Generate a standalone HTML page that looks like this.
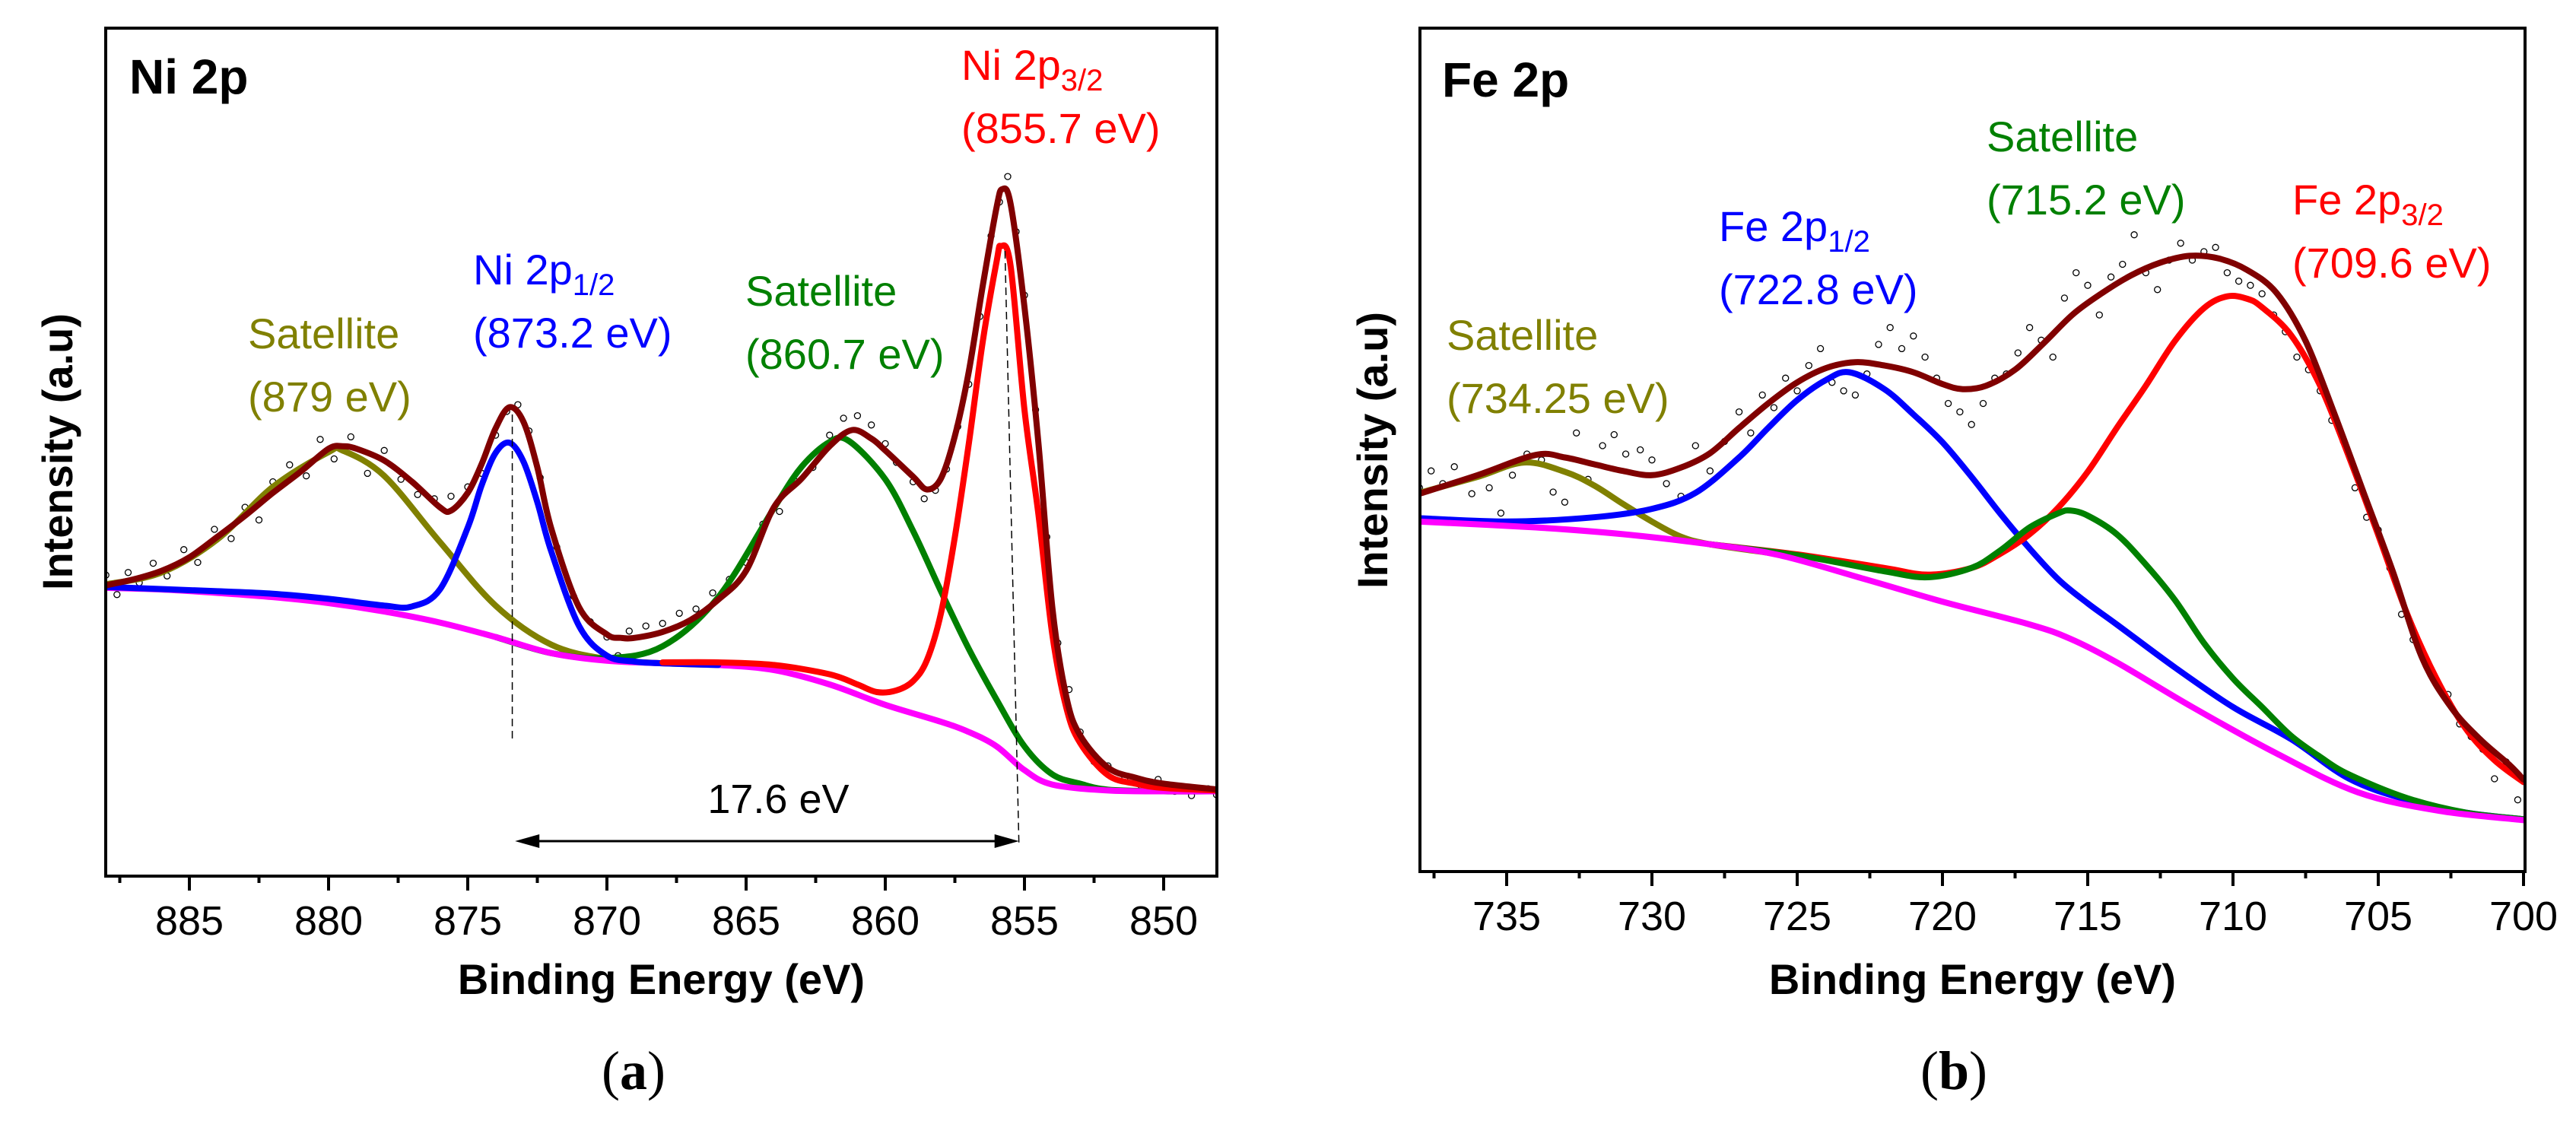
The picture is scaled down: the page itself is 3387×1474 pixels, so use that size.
<!DOCTYPE html>
<html><head><meta charset="utf-8"><style>
html,body{margin:0;padding:0;background:#fff;}
svg{display:block;}
text{font-family:"Liberation Sans",Arial,sans-serif;}
</style></head><body>
<svg id="fig" width="3387" height="1474" viewBox="0 0 3387 1474" xmlns="http://www.w3.org/2000/svg">
<rect x="0" y="0" width="3387" height="1474" fill="#fff"/>
<g id="pa"></g>
<g id="pb"></g>
</svg>
<script>
// ---------- Panel A data (Ni 2p) : binding energy (eV) / intensity (a.u., 0-100) ----------
const aTicks = [885, 880, 875, 870, 865, 860, 855, 850];
const aBgE = [888,886,884,882,880,878,876,874,872,870,868,866,864,862,860,858,857,856,855,854,852,850,848];
const aBgV = [34.0,33.8,33.4,32.9,32.2,31.2,29.9,28.2,26.3,25.4,25.1,24.9,24.3,22.6,20.2,18.2,17.0,15.3,12.5,10.8,10.1,10.0,10.0];
const aOliveE = [888,886,884,882,880,879.5,878,876,874,872,870,868,866];
const aOliveV = [34.4,35.8,39.7,45.9,50.0,50.2,47.2,39.4,31.9,27.3,25.6,25.1,24.9];
const aBlueE = [888,884,882,880,878,877,876,875,874.5,874,873.5,873,872.5,872,871,870,869,868,866];
const aBlueV = [34.1,33.6,33.3,32.7,31.9,31.8,33.8,41.1,46.1,49.9,51.1,48.9,44.1,38.3,29.5,26.0,25.3,25.1,24.9];
const aGreenE = [874,872,870,868,866,864,863,862,861.3,860,859,858,857,856,855,854,853,852,850,848];
const aGreenV = [28.2,26.3,25.7,27.1,32.9,43.4,48.3,51.2,51.3,46.8,40.7,33.6,26.8,20.8,15.3,12.0,10.9,10.2,10.0,10.0];
const aRedE = [868,866,864,862,861,860.3,859.6,859,858.5,858,857.5,857,856.5,856,855.85,855.5,855,854.5,854,853.5,853,852,851,850,848];
const aRedV = [25.2,25.2,24.9,23.8,22.6,21.7,21.9,23.0,25.5,31.0,40.0,51.0,63.0,72.5,74.3,72.0,55.0,42.7,28.5,19.9,15.7,11.9,10.9,10.4,10.1];
const aEnvE = [888,887,886,885,884,883,882,881,880,879.5,879,878,877,876,875.6,875,874.5,874,873.5,873,872.5,872,871,870,869.5,869,868,867,866,865,864,863,862,861.2,860.5,860,859,858.5,858,857.5,857,856.5,856,855.8,855.5,855,854.5,854,853.5,853,852,851,850,848];
const aEnvV = [34.3,35.0,36.0,37.6,40.0,42.5,45.2,47.7,50.4,50.7,50.4,49.0,46.5,43.5,43.1,45.2,48.6,52.8,55.3,53.6,48.2,41.0,31.7,28.5,28.1,28.1,28.8,30.2,32.6,36.0,43.5,46.9,50.7,52.6,51.6,50.2,47.1,45.6,46.9,51.9,59.5,69.6,78.9,81.0,79.3,67.1,51.1,31.7,21.2,16.6,12.8,11.6,10.9,10.2];
const aPtsE = [888,887.6,887.2,886.8,886.3,885.8,885.2,884.7,884.1,883.5,883,882.5,882,881.4,880.8,880.3,879.8,879.2,878.6,878,877.4,876.8,876.2,875.6,875,874.5,874,873.6,873.2,872.8,872.4,871.8,871.2,870.6,870,869.6,869.2,868.6,868,867.4,866.8,866.2,865.6,865,864.4,863.8,863.2,862.6,862,861.5,861,860.5,860,859.6,859,858.6,858.2,857.8,857.4,857,856.6,856.2,855.9,855.6,855.3,855,854.6,854.2,853.8,853.4,853,852.5,852,851.4,850.8,850.2,849.6,849,848.4,848.1];
const aPtsV = [35.5,33.2,35.8,34.6,36.9,35.4,38.5,37.0,40.9,39.8,43.5,42.0,46.5,48.5,47.2,51.5,49.2,51.8,47.5,50.2,46.8,45.0,44.5,44.8,45.9,47.5,52.0,54.8,55.6,52.5,47.0,38.8,33.0,30.0,28.2,26.0,28.9,29.5,29.8,31.0,31.5,33.4,35.0,37.0,41.5,43.0,46.5,48.2,52.0,54.0,54.3,53.2,51.0,48.8,46.5,44.5,45.5,48.0,53.0,58.0,66.0,75.5,79.5,82.5,76.0,68.5,55.0,40.0,27.5,22.0,17.0,13.5,13.0,11.5,10.6,11.4,10.0,9.5,10.3,9.6];

// ---------- Panel B data (Fe 2p) ----------
const bTicks = [735, 730, 725, 720, 715, 710, 705, 700];
const bBgE = [738,734,731,728,725.6,722.7,720,717,715.6,714,711.4,708.5,705.7,702.9,700];
const bBgV = [41.5,40.8,40.0,38.8,37.5,34.7,32.0,29.3,27.6,24.8,19.5,14.0,9.4,7.2,6.1];
const bOliveE = [738,736,734.4,733,732,731,730,729,728,726];
const bOliveV = [44.9,46.8,48.5,47.4,45.8,43.6,41.5,39.7,38.8,37.8];
const bBlueE = [738,735,732,730,728.5,727,726,725,724,723.2,722,721,720,719,718,717,716,715,714,712,710,708,706,704,702,700];
const bBlueV = [41.9,41.5,42.0,43.0,44.9,49.1,52.6,55.9,58.3,59.2,57.2,54.2,50.9,46.8,42.4,38.3,34.6,31.8,29.3,24.2,19.5,15.7,11.0,8.5,7.0,6.2];
const bGreenE = [728,725,722,720.5,719,718,717,716,715.6,715,714,713,712,711,710,709,708,707,706,704,702,700];
const bGreenV = [38.8,37.5,35.6,34.9,36.0,38.1,40.8,42.5,42.8,42.2,40.0,36.4,32.2,27.1,22.9,19.5,16.1,13.6,11.5,8.7,7.0,6.2];
const bRedE = [728,725,722,720.5,719,718,717,716,715,714,713,712,711,710.2,709.5,709,708,707,706,705,704,703,702,701,700];
const bRedV = [38.8,37.6,36.0,35.2,36.0,37.7,40.0,43.2,47.4,52.6,57.6,62.9,66.8,68.2,67.9,66.9,63.6,57.6,49.1,39.9,30.5,22.9,17.0,13.2,10.6];
const bEnvE = [738,736,734,733,732,731,730,729,728,727,726,725,724,723,722,721,720,719.3,718.5,717.5,716.5,715.5,714.5,713.5,712.5,711.5,710.5,709.5,708.5,707.5,706.5,705.5,704.5,703.5,702.5,701.5,700.5,700];
const bEnvV = [44.8,47.0,49.4,49.1,48.3,47.5,47.0,47.9,49.6,52.6,55.5,58.0,59.7,60.4,60.0,59.2,57.8,57.2,57.6,59.5,62.7,66.1,68.6,70.7,72.2,73.0,72.7,71.3,68.6,62.9,54.2,44.9,35.6,25.4,19.5,15.7,12.7,10.9];
const bPtsE = [738,737.6,737.2,736.8,736.2,735.6,735.2,734.8,734.3,733.8,733.4,733,732.6,732.2,731.7,731.3,730.9,730.4,730,729.5,729,728.5,728,727.5,727,726.6,726.2,725.8,725.4,725,724.6,724.2,723.8,723.4,723,722.6,722.2,721.8,721.4,721,720.6,720.2,719.8,719.4,719,718.6,718.2,717.8,717.4,717,716.6,716.2,715.8,715.4,715,714.6,714.2,713.8,713.4,713,712.6,712.2,711.8,711.4,711,710.6,710.2,709.8,709.4,709,708.6,708.2,707.8,707.4,707,706.6,706.2,705.8,705.4,705,704.6,704.2,703.8,703.4,703,702.6,702.2,701.8,701.4,701,700.6,700.2];
const bPtsV = [45.5,47.5,46.0,48.0,44.8,45.5,42.5,47.0,49.5,48.8,45.0,43.8,52.0,46.5,50.5,51.8,49.5,50.0,48.8,46.0,44.5,50.5,47.5,51.0,54.5,52.0,56.5,55.0,58.5,57.0,60.0,62.0,58.0,57.0,56.5,59.0,62.5,64.5,62.0,63.5,61.0,58.5,55.5,54.5,53.0,55.5,58.5,59.0,61.5,64.5,63.0,61.0,68.0,71.0,69.5,66.0,70.5,72.0,75.5,71.0,69.0,72.5,74.5,72.5,73.5,74.0,71.0,70.0,69.5,68.5,66.0,64.0,61.0,59.5,57.0,53.5,51.0,45.5,42.0,40.5,36.0,30.5,27.5,25.0,22.5,21.0,17.5,16.0,14.5,11.0,13.0,8.5];

const NS = "http://www.w3.org/2000/svg";
function mk(parent, tag, attrs){
  const el = document.createElementNS(NS, tag);
  for (const k in attrs) el.setAttribute(k, attrs[k]);
  parent.appendChild(el);
  return el;
}
function smoothPath(pts){
  let d = "M" + pts[0][0].toFixed(1) + "," + pts[0][1].toFixed(1);
  for (let i = 0; i < pts.length - 1; i++){
    const p0 = pts[Math.max(0, i - 1)], p1 = pts[i], p2 = pts[i + 1], p3 = pts[Math.min(pts.length - 1, i + 2)];
    const c1x = p1[0] + (p2[0] - p0[0]) / 6, c1y = p1[1] + (p2[1] - p0[1]) / 6;
    const c2x = p2[0] - (p3[0] - p1[0]) / 6, c2y = p2[1] - (p3[1] - p1[1]) / 6;
    d += "C" + c1x.toFixed(1) + "," + c1y.toFixed(1) + " " + c2x.toFixed(1) + "," + c2y.toFixed(1) + " " + p2[0].toFixed(1) + "," + p2[1].toFixed(1);
  }
  return d;
}

function panel(g, cfg){
  const L = cfg.left, R = cfg.right, T = cfg.top, B = cfg.bottom;
  const xs = e => cfg.x0 + (cfg.e0 - e) * cfg.pxPerEv;
  const ys = v => B - v / 100 * (B - T);
  const clipId = cfg.id + "-clip";
  const defs = mk(g, "defs", {});
  const cp = mk(defs, "clipPath", {id: clipId});
  mk(cp, "rect", {x: L, y: T, width: R - L, height: B - T});
  const plot = mk(g, "g", {"clip-path": "url(#" + clipId + ")"});
  
  

  const sg = mk(plot, "g", {});
  
  
  cfg.ptsE.forEach((e, i) => {
    const c = mk(sg, "circle", {cx: xs(e).toFixed(1), cy: ys(cfg.ptsV[i]).toFixed(1), r: 4, fill: "#fff", stroke: "#000", "stroke-width": 1.3});
    
    
  });

  cfg.series.forEach(s => {
    const pts = s.E.map((e, i) => [xs(e), ys(s.V[i])]);
    const p = mk(plot, "path", {d: smoothPath(pts), fill: "none", stroke: s.color, "stroke-width": 8, "stroke-linejoin": "round", "stroke-linecap": "round"});
    
    
  });

  const fr = mk(g, "rect", {x: L, y: T, width: R - L, height: B - T, fill: "none", stroke: "#000", "stroke-width": 4});
  
  

  const tg = mk(g, "g", {});
  
  
  cfg.ticks.forEach(t => {
    const x = xs(t);
    mk(tg, "line", {x1: x, y1: B, x2: x, y2: B + 19, stroke: "#000", "stroke-width": 4});
    const m = xs(t + 2.5);
    if (m > L + 2 && m < R - 2) mk(tg, "line", {x1: m, y1: B, x2: m, y2: B + 9, stroke: "#000", "stroke-width": 4});
    const tx = mk(tg, "text", {x: x, y: B + 77, "font-size": 54, "text-anchor": "middle", fill: "#000"});
    tx.textContent = String(t);
    
    
  });
  const xt = mk(g, "text", {x: (L + R) / 2, y: 1307, "font-size": 56, "font-weight": "bold", "text-anchor": "middle"});
  xt.textContent = "Binding Energy (eV)";
  
  
  const yt = mk(g, "text", {x: 0, y: 0, "font-size": 56, "font-weight": "bold", "text-anchor": "middle", transform: "translate(" + cfg.yTitleX + "," + cfg.yTitleY + ") rotate(-90)"});
  yt.textContent = "Intensity (a.u)";
  
  
  const ht = mk(g, "text", {x: cfg.headX, y: cfg.headY, "font-size": 64, "font-weight": "bold"});
  ht.textContent = cfg.head;
  
  

  cfg.labels.forEach(lb => {
    const t1 = mk(g, "text", {x: lb.x, y: lb.y, "font-size": 56, fill: lb.color});
    
    
    if (lb.sub){
      t1.appendChild(document.createTextNode(lb.t1));
      const ts = mk(t1, "tspan", {"font-size": 40, dy: 14});
      ts.textContent = lb.sub;
    } else t1.textContent = lb.t1;
    const t2 = mk(g, "text", {x: lb.x, y: lb.y + 83, "font-size": 56, fill: lb.color});
    t2.textContent = lb.t2;
    
    
  });
  return {xs, ys};
}

const colors = {env: "#800000", red: "#ff0000", blue: "#0000ff", green: "#008000", olive: "#808000", bg: "#ff00ff"};

const A = panel(document.getElementById("pa"), {
  id: "pa", left: 139, right: 1600, top: 37, bottom: 1152, x0: 249, e0: 885, pxPerEv: 36.6,
  ticks: aTicks, ptsE: aPtsE, ptsV: aPtsV,
  series: [
    {name: "olive-satellite-curve", E: aOliveE, V: aOliveV, color: colors.olive},
    {name: "green-satellite-curve", E: aGreenE, V: aGreenV, color: colors.green},
    {name: "background-curve", E: aBgE, V: aBgV, color: colors.bg},
    {name: "ni2p12-curve", E: aBlueE, V: aBlueV, color: colors.blue},
    {name: "ni2p32-curve", E: aRedE, V: aRedV, color: colors.red},
    {name: "envelope-curve", E: aEnvE, V: aEnvV, color: colors.env}
  ],
  yTitleX: 95, yTitleY: 594, head: "Ni 2p", headX: 170, headY: 123,
  labels: [
    {name: "satellite-879", x: 326, y: 458, color: colors.olive, t1: "Satellite", t2: "(879 eV)"},
    {name: "ni2p12", x: 622, y: 374, color: colors.blue, t1: "Ni 2p", sub: "1/2", t2: "(873.2 eV)"},
    {name: "satellite-860", x: 980, y: 402, color: colors.green, t1: "Satellite", t2: "(860.7 eV)"},
    {name: "ni2p32", x: 1264, y: 105, color: colors.red, t1: "Ni 2p", sub: "3/2", t2: "(855.7 eV)"}
  ]
});

(function(){
  const g = document.getElementById("pa");
  const d1 = mk(g, "line", {x1: A.xs(873.4), y1: 545, x2: A.xs(873.4), y2: 977, stroke: "#000", "stroke-width": 1.5, "stroke-dasharray": "10,6"});
  
  
  const d2 = mk(g, "line", {x1: A.xs(855.7), y1: 330, x2: A.xs(855.2), y2: 1108, stroke: "#000", "stroke-width": 1.5, "stroke-dasharray": "10,6"});
  
  
  const xa = A.xs(873.3), xb = A.xs(855.2), y = 1106;
  const ar = mk(g, "line", {x1: xa + 20, y1: y, x2: xb - 20, y2: y, stroke: "#000", "stroke-width": 3});
  
  
  mk(g, "polygon", {points: xa + "," + y + " " + (xa + 32) + "," + (y - 9) + " " + (xa + 32) + "," + (y + 9), fill: "#000"});
  mk(g, "polygon", {points: xb + "," + y + " " + (xb - 32) + "," + (y - 9) + " " + (xb - 32) + "," + (y + 9), fill: "#000"});
  const t = mk(g, "text", {x: (xa + xb) / 2 + 15, y: 1069, "font-size": 54, "text-anchor": "middle"});
  t.textContent = "17.6 eV";
  
  
})();

const Bp = panel(document.getElementById("pb"), {
  id: "pb", left: 1867, right: 3320, top: 37, bottom: 1146, x0: 1981, e0: 735, pxPerEv: 38.2,
  ticks: bTicks, ptsE: bPtsE, ptsV: bPtsV,
  series: [
    {name: "olive-satellite-curve", E: bOliveE, V: bOliveV, color: colors.olive},
    {name: "fe2p12-curve", E: bBlueE, V: bBlueV, color: colors.blue},
    {name: "fe2p32-curve", E: bRedE, V: bRedV, color: colors.red},
    {name: "green-satellite-curve", E: bGreenE, V: bGreenV, color: colors.green},
    {name: "background-curve", E: bBgE, V: bBgV, color: colors.bg},
    {name: "envelope-curve", E: bEnvE, V: bEnvV, color: colors.env}
  ],
  yTitleX: 1824, yTitleY: 592, head: "Fe 2p", headX: 1896, headY: 127,
  labels: [
    {name: "satellite-734", x: 1902, y: 460, color: colors.olive, t1: "Satellite", t2: "(734.25 eV)"},
    {name: "fe2p12", x: 2260, y: 317, color: colors.blue, t1: "Fe 2p", sub: "1/2", t2: "(722.8 eV)"},
    {name: "satellite-715", x: 2612, y: 199, color: colors.green, t1: "Satellite", t2: "(715.2 eV)"},
    {name: "fe2p32", x: 3014, y: 282, color: colors.red, t1: "Fe 2p", sub: "3/2", t2: "(709.6 eV)"}
  ]
});

[["(", "a", ")", 833, "caption-a"], ["(", "b", ")", 2569, "caption-b"]].forEach(c => {
  const t = mk(document.getElementById("fig"), "text", {x: c[3], y: 1432, "font-size": 72, "text-anchor": "middle", style: "font-family:'Liberation Serif',serif"});
  
  
  t.appendChild(document.createTextNode(c[0]));
  const b = mk(t, "tspan", {"font-weight": "bold"});
  b.textContent = c[1];
  t.appendChild(document.createTextNode(c[2]));
});
</script>
</body></html>
